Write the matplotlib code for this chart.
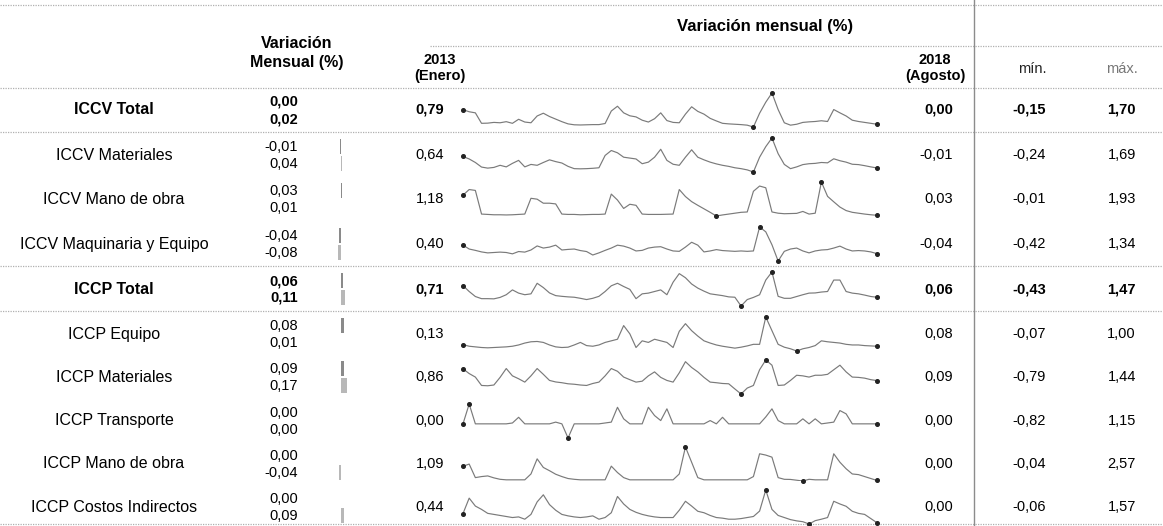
import numpy as np
import matplotlib.pyplot as plt

plt.rcParams['font.family'] = ['Liberation Sans', 'DejaVu Sans']

# ---- data ----
rows = ['ICCV Total', 'ICCV Materiales', 'ICCV Mano de obra', 'ICCV Maquinaria y Equipo',
        'ICCP Total', 'ICCP Equipo', 'ICCP Materiales', 'ICCP Transporte',
        'ICCP Mano de obra', 'ICCP Costos Indirectos']
bold_rows = ['ICCV Total', 'ICCP Total']

var_prev = ['0,00', '-0,01', '0,03', '-0,04', '0,06', '0,08', '0,09', '0,00', '0,00', '0,00']
var_last = ['0,02', '0,04', '0,01', '-0,08', '0,11', '0,01', '0,17', '0,00', '-0,04', '0,09']
first_val = ['0,79', '0,64', '1,18', '0,40', '0,71', '0,13', '0,86', '0,00', '1,09', '0,44']
last_val = ['0,00', '-0,01', '0,03', '-0,04', '0,06', '0,08', '0,09', '0,00', '0,00', '0,00']
min_val = ['-0,15', '-0,24', '-0,01', '-0,42', '-0,43', '-0,07', '-0,79', '-0,82', '-0,04', '-0,06']
max_val = ['1,70', '1,69', '1,93', '1,34', '1,47', '1,00', '1,44', '1,15', '2,57', '1,57']

# monthly variation, Jan 2013 .. Aug 2018 (68 months)
iccv_total = [0.79, 0.68, 0.62, 0.05, 0.06, 0.10, 0.08, 0.14, 0.05, 0.27, 0.12,
              0.08, 0.45, 0.60, 0.42, 0.28, 0.14, 0.02, -0.03, -0.04, -0.03, -0.02, -0.02,
              0.04, 0.72, 0.98, 0.62, 0.46, 0.40, 0.22, 0.12, 0.30, 0.62, 0.20,
              0.10, 0.08, 0.55, 0.95, 0.70, 0.55, 0.32, 0.18, 0.05, 0.02, 0.00, -0.02,
              -0.05, -0.15, 0.60, 1.20, 1.70, 0.80, 0.08, -0.05, 0.00, 0.10, 0.13,
              0.15, 0.19, 0.15, 0.80, 0.62, 0.45, 0.22, 0.15, 0.10, 0.05, 0.00]
iccv_mat = [0.64, 0.50, 0.30, 0.04, -0.02, 0.02, 0.14, 0.05, 0.25, 0.42, 0.05, 0.19,
            0.14, 0.30, 0.45, 0.35, 0.27, 0.08, -0.05, -0.06, -0.05, -0.03, 0.00,
            0.70, 0.98, 0.85, 0.60, 0.55, 0.50, 0.23, 0.32, 0.60, 1.05, 0.42,
            0.20, 0.14, 0.60, 1.02, 0.60, 0.45, 0.32, 0.22, 0.14, 0.08, 0.00, -0.05,
            -0.12, -0.24, 0.60, 1.20, 1.69, 0.80, 0.19, -0.05, 0.05, 0.18, 0.23,
            0.25, 0.30, 0.28, 0.51, 0.40, 0.32, 0.20, 0.18, 0.12, 0.05, -0.01]
iccv_mo = [1.18, 1.50, 1.45, 0.10, 0.08, 0.06, 0.06, 0.05, 0.06, 0.08, 0.10,
           1.00, 0.95, 0.72, 0.72, 0.68, 0.10, 0.08, 0.08, 0.06, 0.07, 0.08, 0.08,
           0.10, 1.24, 0.90, 0.42, 0.66, 0.60, 0.10, 0.08, 0.08, 0.08, 0.09,
           0.10, 1.50, 1.10, 0.81, 0.60, 0.40, 0.20, -0.01, 0.05, 0.10, 0.15, 0.20,
           0.22, 1.40, 1.70, 1.60, 0.22, 0.15, 0.12, 0.13, 0.14, 0.25, 0.10,
           0.15, 1.93, 1.11, 0.80, 0.50, 0.30, 0.20, 0.15, 0.10, 0.06, 0.03]
iccv_maq = [0.40, 0.20, 0.13, 0.05, 0.00, 0.02, 0.04, 0.02, -0.05, 0.07, 0.04,
            0.15, 0.36, 0.25, 0.30, 0.40, 0.15, 0.18, 0.20, 0.12, 0.07, -0.11, 0.00,
            0.13, 0.25, 0.40, 0.35, 0.25, 0.10, 0.13, 0.25, 0.30, 0.32, 0.20,
            0.10, 0.08, 0.30, 0.55, 0.40, 0.05, 0.10, 0.17, 0.12, 0.10, 0.08,
            0.10, 0.08, 0.10, 1.34, 1.09, 0.42, -0.42, 0.08, 0.20, 0.25, 0.10, 0.00,
            0.10, 0.15, 0.17, 0.25, 0.35, 0.20, 0.10, 0.12, 0.10, 0.05, -0.04]
iccp_total = [0.71, 0.38, 0.10, -0.02, -0.02, -0.03, 0.05, 0.20, 0.47, 0.29, 0.20,
              0.25, 0.84, 0.60, 0.30, 0.15, 0.11, 0.08, 0.06, 0.00, -0.07, 0.00, 0.11,
              0.38, 0.70, 0.84, 0.66, 0.50, -0.02, 0.25, 0.29, 0.38, 0.47, 0.20,
              0.90, 1.38, 1.15, 0.80, 0.57, 0.40, 0.25, 0.20, 0.15, 0.08, 0.06, -0.43,
              -0.07, 0.05, 0.20, 1.02, 1.47, 0.11, 0.00, 0.00, 0.10, 0.20, 0.29,
              0.30, 0.35, 0.38, 1.02, 1.02, 0.38, 0.29, 0.25, 0.18, 0.10, 0.06]
iccp_equipo = [0.13, 0.08, 0.06, 0.04, 0.03, 0.04, 0.05, 0.06, 0.08, 0.12, 0.18,
               0.22, 0.23, 0.20, 0.12, 0.06, 0.04, 0.05, 0.12, 0.20, 0.10, 0.08, 0.12,
               0.20, 0.25, 0.30, 0.73, 0.47, 0.04, 0.25, 0.20, 0.30, 0.25, 0.20,
               0.04, 0.55, 0.79, 0.57, 0.40, 0.25, 0.18, 0.12, 0.08, 0.05, 0.02, 0.05,
               0.09, 0.14, 0.14, 1.00, 0.57, 0.14, 0.05, 0.00, -0.07, 0.00, 0.04,
               0.10, 0.25, 0.22, 0.20, 0.18, 0.14, 0.12, 0.12, 0.10, 0.09, 0.08]
iccp_mat = [0.86, 0.55, 0.32, -0.23, -0.25, -0.20, 0.30, 0.88, 0.40, 0.21, -0.01,
            0.40, 0.88, 0.50, 0.10, 0.00, -0.05, -0.12, -0.15, -0.20, -0.23, -0.10, -0.01,
            0.40, 0.88, 0.70, 0.32, 0.15, -0.01, 0.05, 0.40, 0.66, 0.30, 0.10,
            -0.01, 0.60, 1.33, 0.95, 0.66, 0.30, -0.01, -0.05, -0.10, -0.12, -0.46, -0.79,
            -0.40, -0.23, 0.80, 1.44, 1.10, -0.23, -0.20, 0.10, 0.44, 0.40, 0.32,
            0.44, 0.44, 0.50, 0.80, 1.10, 0.66, 0.32, 0.30, 0.25, 0.15, 0.09]
iccp_transp = [0.00, 1.15, 0.00, 0.00, 0.00, 0.00, 0.00, 0.00, 0.05, 0.38, 0.00,
               0.00, 0.00, 0.00, 0.00, 0.10, 0.00, -0.82, 0.00, 0.00, 0.00, 0.00, 0.00,
               0.05, 0.10, 0.96, 0.29, 0.00, 0.00, 0.00, 0.96, 0.48, 0.19, 0.87,
               0.00, 0.00, 0.00, 0.00, 0.00, 0.00, 0.19, 0.00, 0.38, 0.00, 0.00, 0.00,
               0.00, 0.00, 0.00, 0.40, 0.87, 0.19, 0.00, 0.00, 0.00, 0.29, 0.00,
               0.29, 0.00, 0.05, 0.10, 0.77, 0.58, 0.00, 0.00, 0.00, 0.00, 0.00]
iccp_mo = [1.09, 1.26, 0.22, 0.30, 0.35, 0.20, 0.09, 0.05, 0.05, 0.05, 0.05,
           0.50, 1.66, 1.00, 0.75, 0.48, 0.30, 0.15, 0.09, 0.05, 0.05, 0.05, 0.05,
           0.05, 1.10, 0.61, 0.22, 0.05, 0.05, 0.05, 0.05, 0.05, 0.05, 0.05,
           0.05, 0.50, 2.57, 1.40, 0.22, 0.05, 0.05, 0.05, 0.05, 0.05, 0.05, 0.05,
           0.05, 0.30, 2.05, 1.95, 1.79, 0.22, 0.09, 0.08, 0.02, -0.04, 0.09,
           0.05, 0.05, 0.05, 2.05, 1.40, 0.90, 0.50, 0.45, 0.30, 0.15, 0.00]
iccp_ci = [0.44, 1.18, 0.80, 0.64, 0.45, 0.40, 0.35, 0.30, 0.25, 0.28, 0.17,
           0.40, 1.00, 1.34, 0.87, 0.60, 0.40, 0.33, 0.28, 0.25, 0.28, 0.33, 0.17,
           0.25, 0.48, 1.26, 0.90, 0.64, 0.50, 0.40, 0.33, 0.28, 0.25, 0.25,
           0.25, 0.60, 1.03, 0.80, 0.55, 0.48, 0.35, 0.25, 0.22, 0.17, 0.17, 0.20,
           0.25, 0.30, 0.56, 1.57, 0.64, 0.35, 0.25, 0.15, 0.09, 0.05, -0.06,
           0.10, 0.17, 0.25, 1.03, 0.90, 0.79, 0.55, 0.45, 0.40, 0.20, 0.00]

series = [iccv_total, iccv_mat, iccv_mo, iccv_maq, iccp_total,
          iccp_equipo, iccp_mat, iccp_transp, iccp_mo, iccp_ci]
assert all(len(s) == 68 for s in series)

# ---- layout (pixels) ----
W, H = 1163, 526
row_y = [110, 155, 199, 244, 289, 334, 377, 421, 464, 507]
spark_x0, spark_x1 = 463, 877

fig = plt.figure(figsize=(W / 100, H / 100), dpi=100)
fig.patch.set_facecolor('white')
bg = fig.add_axes([0, 0, 1, 1])
bg.set_xlim(0, W)
bg.set_ylim(H, 0)
bg.axis('off')

grid_kw = dict(color='#b0b0b0', lw=0.9, ls=(0, (1, 1)))
bg.plot([0, W], [5, 5], **grid_kw)
bg.plot([430, W], [46, 46], **grid_kw)
bg.plot([0, W], [88, 88], **grid_kw)
bg.plot([0, W], [132, 132], **grid_kw)
bg.plot([0, W], [266, 266], **grid_kw)
bg.plot([0, W], [311, 311], **grid_kw)
bg.plot([0, W], [524, 524], **grid_kw)
bg.plot([974, 974], [0, H], color='#8c8c8c', lw=1.0)

# headers
bg.text(297, 53, 'Variación\nMensual (%)', ha='center', va='center',
        fontsize=11.5, fontweight='bold', linespacing=1.3)
bg.text(765, 27, 'Variación mensual (%)', ha='center', va='center',
        fontsize=12, fontweight='bold')
bg.text(440, 68, '2013\n(Enero)', ha='center', va='center',
        fontsize=10.5, fontweight='bold', linespacing=1.25)
bg.text(935, 68, '2018\n(Agosto)', ha='center', va='center',
        fontsize=10.5, fontweight='bold', linespacing=1.25)
bg.text(1032, 69, 'mín.', ha='center', va='center', fontsize=10.5, color='#222222')
bg.text(1122, 69, 'máx.', ha='center', va='center', fontsize=10.5, color='#777777')

for i, name in enumerate(rows):
    y = row_y[i]
    fw = 'bold' if name in bold_rows else 'normal'
    bg.text(114, y, name, ha='center', va='center', fontsize=11.5, fontweight=fw)
    bg.text(298, y - 8, var_prev[i], ha='right', va='center', fontsize=10.5, fontweight=fw)
    bg.text(298, y + 9, var_last[i], ha='right', va='center', fontsize=10.5, fontweight=fw)
    bg.text(444, y, first_val[i], ha='right', va='center', fontsize=10.5, fontweight=fw)
    bg.text(953, y, last_val[i], ha='right', va='center', fontsize=10.5, fontweight=fw)
    bg.text(1046, y, min_val[i], ha='right', va='center', fontsize=10.5, fontweight=fw)
    bg.text(1136, y, max_val[i], ha='right', va='center', fontsize=10.5, fontweight=fw)

    # tiny bars for the two latest monthly variations
    bax = fig.add_axes([325 / W, 1 - (y + 17) / H, 35 / W, 34 / H])
    vals = [float(var_prev[i].replace(',', '.')), float(var_last[i].replace(',', '.'))]
    bax.barh([0, 1], vals, height=0.9, color=['#8a8a8a', '#b8b8b8'])
    bax.set_xlim(-0.45, 0.55)
    bax.set_ylim(1.5, -0.5)
    bax.axis('off')

    # sparkline
    s = np.array(series[i])
    months = np.arange(len(s))
    sax = fig.add_axes([spark_x0 / W, 1 - (y + 17) / H, (spark_x1 - spark_x0) / W, 34 / H])
    sax.plot(months, s, color='#7a7a7a', lw=0.85)
    idx = [0, len(s) - 1, int(np.argmin(s)), int(np.argmax(s))]
    sax.plot(months[idx], s[idx], 'o', color='#222222', ms=2.6, clip_on=False)
    sax.set_xlim(0, len(s) - 1)
    sax.set_ylim(s.min(), s.max())
    sax.axis('off')

fig.savefig('out.png', dpi=100, facecolor='white')
